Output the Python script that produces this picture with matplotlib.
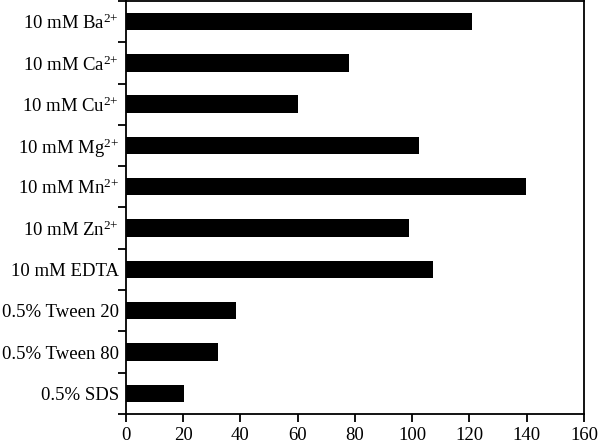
import matplotlib
matplotlib.use("Agg")
import matplotlib.pyplot as plt
import numpy as np

plt.rcParams['font.family'] = ['Liberation Serif', 'DejaVu Serif']
plt.rcParams['mathtext.fontset'] = 'custom'
plt.rcParams['mathtext.rm'] = 'Liberation Serif'
plt.rcParams['mathtext.it'] = 'Liberation Serif:italic'

# treatments and relative activity (%)
labels = [r'10 mM Ba$^{2{+}}$', r'10 mM Ca$^{2{+}}$', r'10 mM Cu$^{2{+}}$',
          r'10 mM Mg$^{2{+}}$', r'10 mM Mn$^{2{+}}$', r'10 mM Zn$^{2{+}}$',
          '10 mM EDTA', '0.5% Tween 20', '0.5% Tween 80', '0.5% SDS']
activity = [120.9, 77.8, 60.0, 102.2, 139.7, 98.7, 107.4, 38.4, 32.1, 20.4]

fig = plt.figure(figsize=(6, 4.43), dpi=100)
ax = fig.add_axes([0.21, 0.0655, 0.7633, 0.9325])

ypos = np.arange(len(labels))
ax.barh(ypos, activity, height=0.42, color='black')
ax.set_ylim(len(labels) - 0.5, -0.5)
ax.set_xlim(0, 160)
ax.set_xticks(range(0, 161, 20))

ax.set_yticks(ypos)
ax.set_yticklabels(labels, fontsize=13.5)
ax.set_yticks(np.arange(-0.5, len(labels), 1), minor=True)
ax.tick_params(axis='y', which='major', length=0, pad=5)
ax.tick_params(axis='y', which='minor', length=6, width=1.3, direction='out')
ax.tick_params(axis='x', length=6, width=1.3, direction='out', labelsize=13.5, pad=3.5)

for s in ax.spines.values():
    s.set_linewidth(1.3)

fig.savefig('out.png', dpi=100)
